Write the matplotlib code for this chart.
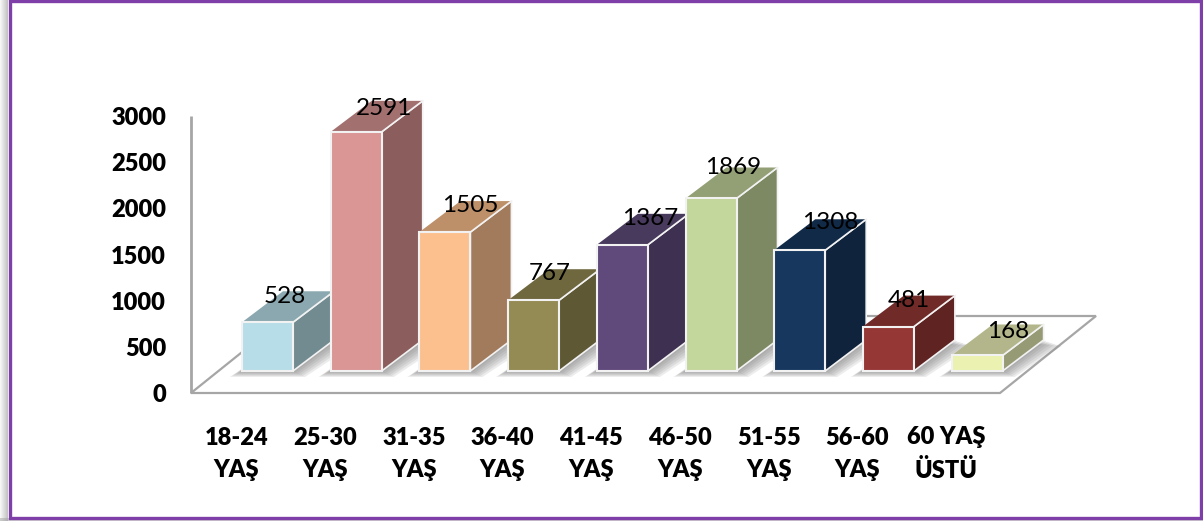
import matplotlib
matplotlib.use('Agg')
import matplotlib.pyplot as plt
from matplotlib.patches import Polygon, Rectangle

# Datos del grafico
categorias = ['18-24\nYAŞ', '25-30\nYAŞ', '31-35\nYAŞ', '36-40\nYAŞ', '41-45\nYAŞ',
              '46-50\nYAŞ', '51-55\nYAŞ', '56-60\nYAŞ', '60 YAŞ\nÜSTÜ']
valores = [528, 2591, 1505, 767, 1367, 1869, 1308, 481, 168]
ticks_y = [0, 500, 1000, 1500, 2000, 2500, 3000]

# Colores de cada barra: frente, tapa y lateral
col_frente = ['#B7DEE8', '#D99694', '#FCC08F', '#948A54', '#604A7B',
              '#C3D69B', '#17375E', '#953735', '#EBF1B0']
col_tapa = ['#8BA8B0', '#A37070', '#BD9069', '#6F683F', '#483A5C',
            '#939F74', '#112A47', '#702A28', '#B2B68A']
col_lado = ['#728B91', '#8B5E5D', '#A27B5D', '#5E5835', '#3E3050',
            '#7D8963', '#0F233C', '#5F2322', '#969A75']

# Ajuste de las etiquetas respecto a la barra, en pixeles
etiqueta_dx = [17, 28, 25, 16, 28, 22, 31, 20, 31]
etiqueta_dy = [26, 23, 27, 27, 26, 31, 28, 26, 24]

plt.rcParams['font.family'] = ['Lato', 'DejaVu Sans']

W, H = 1203, 521
PX_CAT = 88.7    # pixeles entre categorias
PX_VAL = 0.0923  # pixeles por unidad
X0, Y0 = 267.5, 393

fig = plt.figure(figsize=(W / 100, H / 100), dpi=100)
ax = fig.add_axes([0, 0, 1, 1])
ax.set_xlim(-X0 / PX_CAT, (W - X0) / PX_CAT)
ax.set_ylim((Y0 - H) / PX_VAL, Y0 / PX_VAL)
ax.axis('off')


def dx(px):
    return px / PX_CAT


def dy(px):
    return px / PX_VAL


def punto(i, v, px_x=0, px_y=0):
    # posicion de datos desplazada unos pixeles (px_y hacia arriba)
    return (i + dx(px_x), v + dy(px_y))


ANCHO = 51
FONDO_X, FONDO_Y = 41, 31
BASE = 22  # altura en pixeles de la base de las barras sobre el suelo

# Marco morado con sombra a la izquierda
for k in range(8):
    ax.add_patch(Rectangle((-X0 / PX_CAT + dx(k), (Y0 - H) / PX_VAL), dx(1), dy(H),
                           color='#6E6E6E', alpha=0.06 + 0.05 * k, lw=0, zorder=1))
for k in range(3):
    ax.add_patch(Rectangle((-X0 / PX_CAT, (Y0 - H) / PX_VAL + dy(k)), dx(W), dy(1),
                           color='#A0A0A0', alpha=0.5, lw=0, zorder=1))
ax.add_patch(Rectangle((-X0 / PX_CAT + dx(9.5), (Y0 - 518) / PX_VAL), dx(1191.5), dy(517),
                       fill=False, ec='#7F3FA8', lw=2.4, zorder=2))

# Suelo y eje vertical
izq = -(X0 - 191) / PX_CAT
der = (1000 - X0) / PX_CAT
suelo = [(izq, 0), (der, 0), (der + dx(96), dy(77)), (izq + dx(96), dy(77))]
ax.add_patch(Polygon(suelo, closed=True, fc='white', ec='#A6A6A6', lw=1.6, zorder=3))
ax.plot([izq, izq], [0, 3000], color='#A6A6A6', lw=2, zorder=3, solid_capstyle='butt')

for i, v in enumerate(valores):
    xi = -ANCHO / 2
    xd = ANCHO / 2

    # sombra difusa sobre el suelo
    for g in range(6, 0, -1):
        sombra = [punto(i, 0, xi - g * 2, BASE - g),
                  punto(i, 0, xd + g * 2, BASE - g),
                  punto(i, 0, xd + FONDO_X + g * 3, BASE + FONDO_Y - g),
                  punto(i, 0, xi + FONDO_X, BASE + FONDO_Y)]
        ax.add_patch(Polygon(sombra, closed=True, fc='#707070', alpha=0.13, lw=0, zorder=4))

    frente = [punto(i, v, xi, BASE), punto(i, v, xd, BASE),
              punto(i, 0, xd, BASE), punto(i, 0, xi, BASE)]
    lado = [punto(i, 0, xd, BASE), punto(i, v, xd, BASE),
            punto(i, v, xd + FONDO_X, BASE + FONDO_Y),
            punto(i, 0, xd + FONDO_X, BASE + FONDO_Y)]
    tapa = [punto(i, v, xi, BASE), punto(i, v, xd, BASE),
            punto(i, v, xd + FONDO_X, BASE + FONDO_Y),
            punto(i, v, xi + FONDO_X, BASE + FONDO_Y)]
    z = 5 + i * 0.1
    ax.add_patch(Polygon(lado, closed=True, fc=col_lado[i], ec='#F2F2F2', lw=1.2, zorder=z))
    ax.add_patch(Polygon(tapa, closed=True, fc=col_tapa[i], ec='none', zorder=z))
    ax.add_patch(Polygon(frente, closed=True, fc=col_frente[i], ec='#F2F2F2', lw=1.5, zorder=z))
    ax.plot(*zip(punto(i, v, xd, BASE), punto(i, v, xd + FONDO_X, BASE + FONDO_Y)),
            color='#F2F2F2', lw=1.2, zorder=z)

    # etiqueta del valor
    ax.text(*punto(i, v, etiqueta_dx[i], BASE + etiqueta_dy[i]), str(v), fontsize=17.5,
            color='black', ha='center', va='center', zorder=8)

    # etiqueta de la categoria
    cat_x, cat_y = punto(i, 0, -31, -61)
    ax.text(cat_x, cat_y, categorias[i], fontsize=17, fontweight='heavy', color='black',
            ha='center', va='center', linespacing=1.55, zorder=8)

for t in ticks_y:
    ax.text(izq - dx(25), t - dy(2), str(t), fontsize=17, fontweight='heavy', color='black',
            ha='right', va='center', zorder=8)

fig.savefig('out.png', dpi=100)
